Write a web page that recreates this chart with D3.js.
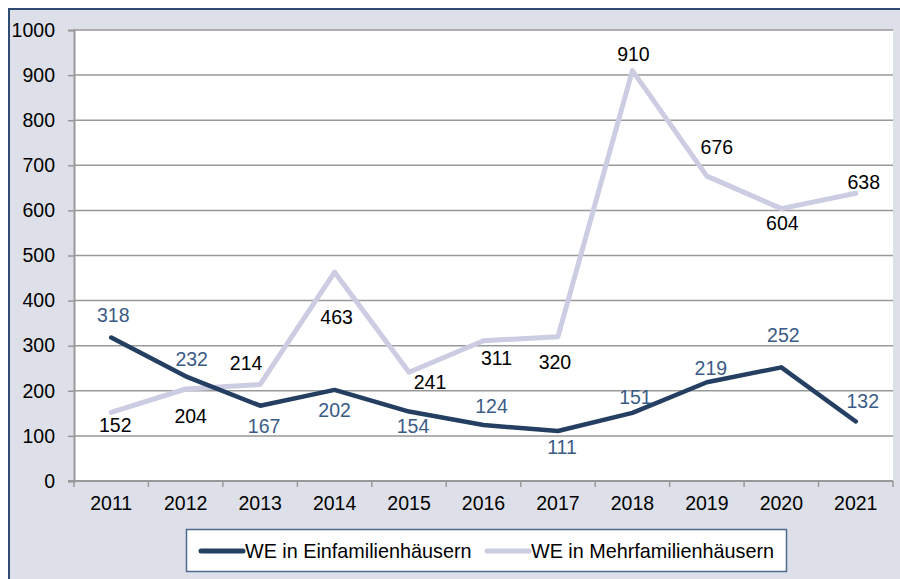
<!DOCTYPE html>
<html>
<head>
<meta charset="utf-8">
<script src="https://cdn.jsdelivr.net/npm/d3@7"></script>
<style>
  body { margin: 0; background: #fff; }
  svg { display: block; font-family: "Liberation Sans", Arial, sans-serif; }
</style>
</head>
<body>
<svg id="chart" width="900" height="579"></svg>
<script>
// data
const years = ['2011', '2012', '2013', '2014', '2015', '2016', '2017', '2018', '2019', '2020', '2021'];
const einfamilien = [318, 232, 167, 202, 154, 124, 111, 151, 219, 252, 132];
const mehrfamilien = [152, 204, 214, 463, 241, 311, 320, 910, 676, 604, 638];
const yTicks = [0, 100, 200, 300, 400, 500, 600, 700, 800, 900, 1000];
const seriesNames = ['WE in Einfamilienhäusern', 'WE in Mehrfamilienhäusern'];

// label offsets (px) relative to each point, as placed in the original
const einLabelOff = [[2, -22], [6, -17], [4, 20], [0, 20], [4, 15], [8, -19], [4, 16], [3, -16], [4, -14], [2, -32], [7, -20]];
const mehrLabelOff = [[4, 13], [5, 27], [-14, -21], [2, 45], [21, 10], [13, 17], [-3, 25], [1, -16], [10, -29], [1, 15], [8, -11]];

const svg = d3.select('#chart');
const W = 900, H = 579;
const margin = { top: 30, right: 7, bottom: 98, left: 74 };

// frame
svg.append('rect')
    .attr('x', 9).attr('y', 9)
    .attr('width', W + 20).attr('height', H + 20)
    .attr('fill', '#dde0e8')
    .attr('stroke', '#2f4d74')
    .attr('stroke-width', 2);

const x = d3.scaleBand()
    .domain(years)
    .range([margin.left, W - margin.right]);

const y = d3.scaleLinear()
    .domain([0, 1000])
    .range([H - margin.bottom, margin.top]);

// plot area
svg.append('rect')
    .attr('x', margin.left).attr('y', margin.top)
    .attr('width', W - margin.right - margin.left)
    .attr('height', y(0) - margin.top)
    .attr('fill', '#fff');

// y axis with gridlines
const yAxis = svg.append('g')
    .attr('transform', `translate(${margin.left},0)`)
    .call(d3.axisLeft(y).tickValues(yTicks).tickFormat(d3.format('d')).tickSize(6).tickPadding(13));
yAxis.select('.domain').attr('stroke', '#999').attr('stroke-width', 2);
yAxis.selectAll('.tick line').attr('stroke', '#999').attr('stroke-width', 1.5);
yAxis.selectAll('.tick text')
    .attr('font-size', '19.5px').attr('fill', '#000');

svg.append('g')
    .selectAll('line')
    .data(yTicks.filter(d => d > 0))
    .join('line')
    .attr('x1', margin.left).attr('x2', W - margin.right)
    .attr('y1', d => y(d)).attr('y2', d => y(d))
    .attr('stroke', '#999').attr('stroke-width', 1.5);

// x axis
const xAxis = svg.append('g')
    .attr('transform', `translate(0,${y(0)})`)
    .call(d3.axisBottom(x).tickSize(0).tickPadding(15));
xAxis.select('.domain').remove();
xAxis.selectAll('.tick text')
    .attr('font-size', '19.5px').attr('fill', '#000');

svg.append('line')
    .attr('x1', margin.left - 6).attr('x2', W - margin.right)
    .attr('y1', y(0)).attr('y2', y(0))
    .attr('stroke', '#999').attr('stroke-width', 2);

svg.append('g')
    .selectAll('line')
    .data(years.map(d => x(d)).concat([x(years[years.length - 1]) + x.bandwidth()]))
    .join('line')
    .attr('x1', d => d).attr('x2', d => d)
    .attr('y1', y(0)).attr('y2', y(0) + 6)
    .attr('stroke', '#999').attr('stroke-width', 1.5);

// lines
const cx = d => x(d) + x.bandwidth() / 2;
const line = d3.line()
    .x((d, i) => cx(years[i]))
    .y(d => y(d));

svg.append('path')
    .datum(mehrfamilien)
    .attr('fill', 'none')
    .attr('stroke', '#cccce2')
    .attr('stroke-width', 5)
    .attr('stroke-linejoin', 'round')
    .attr('stroke-linecap', 'round')
    .attr('d', line);

svg.append('path')
    .datum(einfamilien)
    .attr('fill', 'none')
    .attr('stroke', '#243f62')
    .attr('stroke-width', 4.5)
    .attr('stroke-linejoin', 'round')
    .attr('stroke-linecap', 'round')
    .attr('d', line);

// data labels
function addLabels(values, offs, color) {
    svg.append('g')
        .selectAll('text')
        .data(values)
        .join('text')
        .attr('x', (d, i) => cx(years[i]) + offs[i][0])
        .attr('y', (d, i) => y(d) + offs[i][1])
        .attr('dy', '0.35em')
        .attr('text-anchor', 'middle')
        .attr('font-size', '19.5px')
        .attr('fill', color)
        .text(d => d);
}
addLabels(mehrfamilien, mehrLabelOff, '#000');
addLabels(einfamilien, einLabelOff, '#3b5b87');

// legend
const legend = svg.append('g');
legend.append('rect')
    .attr('x', 186.5).attr('y', 529.5)
    .attr('width', 600).attr('height', 42)
    .attr('fill', '#fff')
    .attr('stroke', '#4f6a8f')
    .attr('stroke-width', 1.5);

const legendItems = [
    { name: seriesNames[0], color: '#243f62', x: 201 },
    { name: seriesNames[1], color: '#cccce2', x: 487 }
];
legendItems.forEach(it => {
    legend.append('line')
        .attr('x1', it.x).attr('x2', it.x + 42)
        .attr('y1', 551).attr('y2', 551)
        .attr('stroke', it.color)
        .attr('stroke-width', 5)
        .attr('stroke-linecap', 'round');
    legend.append('text')
        .attr('x', it.x + 44)
        .attr('y', 551)
        .attr('dy', '0.35em')
        .attr('font-size', '19.8px')
        .attr('fill', '#000')
        .text(it.name);
});
</script>
</body>
</html>
